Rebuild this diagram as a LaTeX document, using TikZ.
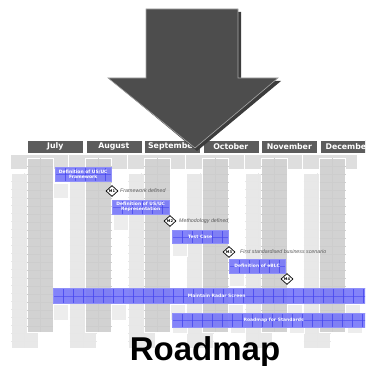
\documentclass[tikz,border=0pt]{standalone}
\usepackage{fontspec}
\setmainfont{Liberation Sans}
\newfontfamily\hdfont{DejaVu Sans}
\usetikzlibrary{shapes.geometric}
\definecolor{hdgray}{RGB}{92,92,92}
\definecolor{bandgray}{RGB}{222,222,222}
\definecolor{darkcol}{RGB}{210,210,210}
\definecolor{lightcol}{RGB}{232,232,232}
\definecolor{texgray}{RGB}{196,196,196}
\definecolor{barblue}{RGB}{118,118,248}
\definecolor{gridblue}{RGB}{70,70,240}
\definecolor{arrowdark}{RGB}{77,77,77}
\definecolor{arrowshadow}{RGB}{60,60,60}
\definecolor{mslabel}{RGB}{90,90,90}
\tikzset{
  header/.style={fill=hdgray, draw=white, line width=0.6pt, anchor=north west, minimum width=56pt, minimum height=12.5pt, inner sep=0pt, text=white, font=\hdfont\bfseries\fontsize{7.8}{8.5}\selectfont},
  bluebar/.style={fill=barblue, fill opacity=0.9, text opacity=1, draw=barblue!80!white, line width=0.4pt, anchor=north west, inner sep=0pt, align=center, text=white, font=\hdfont\bfseries\fontsize{4.5}{5}\selectfont,
    path picture={
      \foreach \i in {0,10,...,330}{\draw[gridblue, line width=0.5pt, opacity=0.8] ([xshift=\i pt]path picture bounding box.south west) -- ([xshift=\i pt]path picture bounding box.north west);}
      \draw[gridblue, line width=0.4pt, opacity=0.6] (path picture bounding box.west) -- (path picture bounding box.east);
    }},
  milestone/.style={diamond, draw=black, fill=white, line width=0.7pt, inner sep=0pt, minimum width=12pt, minimum height=11pt, font=\hdfont\bfseries\fontsize{3.6}{4}\selectfont},
  mslab/.style={anchor=west, inner sep=0pt, text=mslabel, font=\itshape\fontsize{5.3}{6}\selectfont},
  ghost/.style={fill=lightcol!80!white, draw=white, line width=0.5pt},
  lcol/.style={fill=lightcol, draw=white, line width=0.5pt},
  dcol/.style={fill=darkcol, draw=white, line width=0.8pt}
}
\begin{document}
\begin{tikzpicture}[x=1pt,y=-1pt]
\useasboundingbox (0,0) rectangle (365,366);
\clip (0,0) rectangle (365,366);
% band under the headers
\fill[bandgray] (10,155) rectangle (357,169);
\foreach \m in {0,...,5}{
  \draw[white, line width=0.5pt] ({10+58.5*\m},155) -- ({10+58.5*\m},169);
}
% light columns
\foreach \m in {0,...,5}{
  \path[lcol] ({11+58.5*\m},173) rectangle ({38+58.5*\m},348);
  \foreach \k in {181,189,...,345}{\draw[texgray!40!white, line width=0.3pt] ({11+58.5*\m},\k) -- ({38+58.5*\m},\k);}
  \draw[texgray!40!white, line width=0.3pt] ({24.5+58.5*\m},173) -- ({24.5+58.5*\m},348);
}
% dark columns
\foreach \m in {0,...,5}{
  \path[dcol] ({27+58.5*\m},158) rectangle ({53+58.5*\m},332);
  \foreach \k in {166,174,...,330}{\draw[texgray!85!white, line width=0.3pt] ({27+58.5*\m},\k) -- ({53+58.5*\m},\k);}
  \draw[texgray!85!white, line width=0.3pt] ({40+58.5*\m},158) -- ({40+58.5*\m},332);
}
% ghost boxes
\path[ghost] (53,183) rectangle (68,198);
\path[ghost] (113,214) rectangle (128,230);
\path[ghost] (172,243) rectangle (187,256);
\path[ghost] (229,273) rectangle (244,286);
\foreach \m in {0,...,5}{
  \path[ghost] ({53+58.5*\m},304) rectangle ({68+58.5*\m},320);
}
\foreach \m in {0,...,3}{
  \path[ghost] ({172+58.5*\m},327) rectangle ({187+58.5*\m},333);
}
% bars
\node[bluebar, minimum width=56pt, minimum height=14pt] (b1) at (55,167) {Definition of US/UC\\Framework};
\node[bluebar, minimum width=57pt, minimum height=14pt] (b2) at (112,200) {Definition of US/UC\\Representation};
\node[bluebar, minimum width=56pt, minimum height=13pt] (b3) at (172,230) {Test Case};
\node[bluebar, minimum width=56pt, minimum height=14pt] (b4) at (229,259) {Definition of eBLC};
\node[bluebar, minimum width=327pt, minimum height=15pt] (b5) at (53,288) {Maintain Radar Screen};
\node[bluebar, minimum width=203pt, minimum height=14pt] (b6) at (172,313) {Roadmap for Standards};
% milestones
\node[milestone] (m1) at (112,191) {M1};
\node[mslab] (l1) at (120,191) {Framework defined};
\node[milestone] (m2) at (170,221) {M2};
\node[mslab] (l2) at (179,221) {Methodology defined};
\node[milestone] (m3) at (229,252) {M3};
\node[mslab] (l3) at (240,252) {First standardised business scenario};
\node[milestone] (m4) at (287,279) {M4};
% headers
\node[header] (h1) at (27,140) {July};
\node[header] (h2) at (85.5,140) {August};
\node[header] (h3) at (144,140) {September};
\node[header] (h4) at (202.5,140) {October};
\node[header] (h5) at (261,140) {November};
\node[header] (h6) at (319.5,140) {December};
% arrow
\fill[arrowshadow] (149,12) -- (241,12) -- (241,81) -- (281,81) -- (197,151) -- (112,81) -- (149,81) -- cycle;
\filldraw[fill=arrowdark, draw=gray!70, line width=0.6pt] (146,9) -- (238,9) -- (238,78) -- (278,78) -- (195,148) -- (108,78) -- (146,78) -- cycle;
% title
\node[anchor=base, inner sep=0pt, font=\bfseries\fontsize{33}{36}\selectfont] (title) at (205,360) {Roadmap};
\end{tikzpicture}
\end{document}
